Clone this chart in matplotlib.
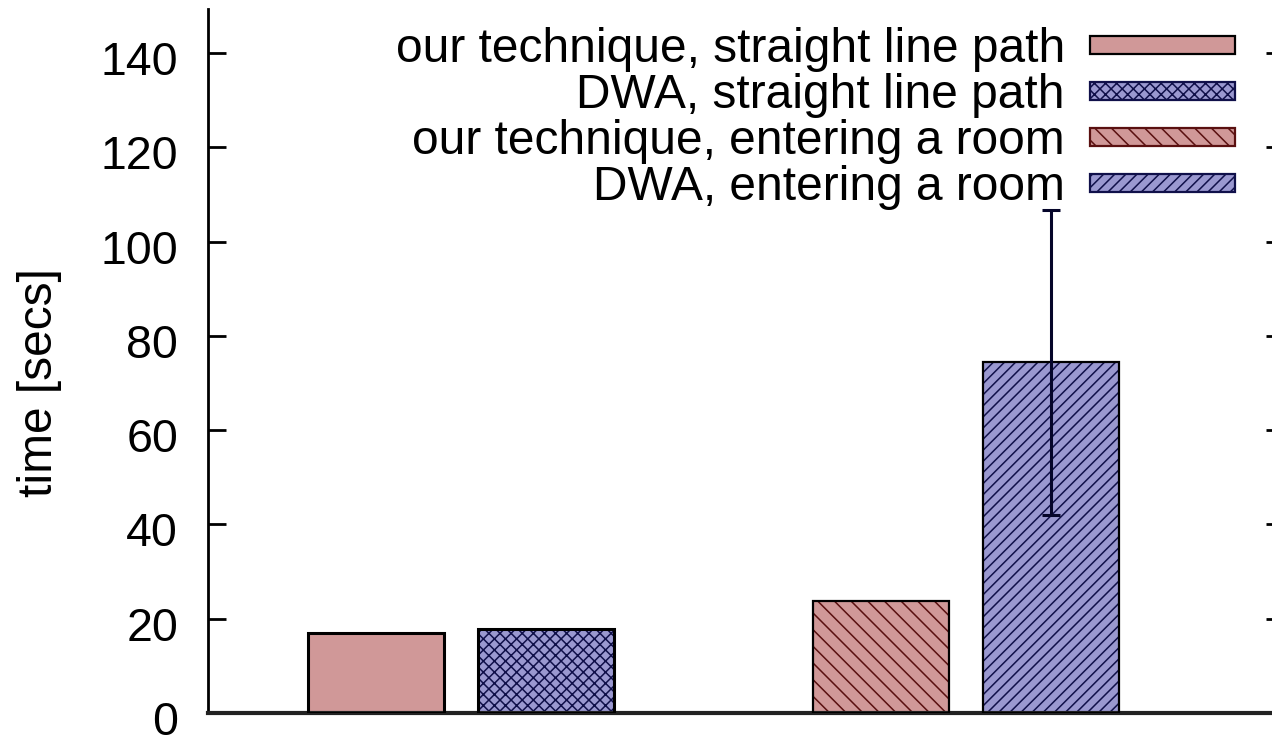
import matplotlib
matplotlib.use("Agg")
import matplotlib.pyplot as plt
from matplotlib.patches import Rectangle
from matplotlib.transforms import ScaledTranslation
import matplotlib as mpl

plt.rcParams['font.family'] = ['Liberation Sans', 'DejaVu Sans']
mpl.rcParams['hatch.linewidth'] = 1.1

# Data
series_labels = [
    "our technique, straight line path",
    "DWA, straight line path",
    "our technique, entering a room",
    "DWA, entering a room",
]
group_index = [0, 0, 1, 1]
times = [16.9, 17.8, 23.8, 74.4]
errors = [None, None, None, 32.4]
yticks = [0, 20, 40, 60, 80, 100, 120, 140]

# Styles
pink = "#d09898"
blue = "#9a98d0"
fills = [pink, blue, pink, blue]
hatches = [None, "xxx", "\\\\", "///"]
hatch_colors = ["black", "#10104a", "#5a1010", "#10104a"]
edge_widths = [2.2, 2.2, 1.6, 1.6]
offset = 0.168
bar_w = 0.27

W, H = 1272, 735
fig = plt.figure(figsize=(W / 100, H / 100), dpi=100)
ax = fig.add_axes([208 / W, 22 / H, 1076 / W, 704 / H])

for i in range(4):
    x = group_index[i] + (-offset if i % 2 == 0 else offset)
    if hatches[i]:
        ax.bar(x, times[i], width=bar_w, color=fills[i], hatch=hatches[i],
               edgecolor=hatch_colors[i], linewidth=0, zorder=2)
    else:
        ax.bar(x, times[i], width=bar_w, color=fills[i], linewidth=0, zorder=2)
    ax.bar(x, times[i], width=bar_w, fill=False, edgecolor="black",
           linewidth=edge_widths[i], zorder=3)
    if errors[i] is not None:
        ax.errorbar(x, times[i], yerr=errors[i], fmt="none", ecolor="#05052a",
                    elinewidth=2.2, capsize=6.5, capthick=2.2, zorder=4)

ax.set_xlim(-0.501, 1.630)
ax.set_ylim(0, 149.35)
ax.set_yticks(yticks)
ax.set_xticks([])
ax.tick_params(axis="y", direction="in", length=13, width=2, labelsize=33.5,
               right=True, pad=21.5)
shift = ScaledTranslation(0, -5 / 100, fig.dpi_scale_trans)
for lbl in ax.get_yticklabels():
    lbl.set_transform(lbl.get_transform() + shift)
ax.spines["top"].set_visible(False)
ax.spines["left"].set_linewidth(2)
ax.spines["bottom"].set_linewidth(3)
ax.spines["bottom"].set_color("#222222")
ax.spines["right"].set_linewidth(2)

fig.text(40 / W, 1 - 383 / H, "time [secs]", rotation=90, fontsize=34.5,
         ha="center", va="center")

# Key: right-aligned labels with a swatch to their right
for i, label in enumerate(series_labels):
    yc = 45 + 46 * i
    fig.text(1065 / W, 1 - (yc + 17) / H, label, fontsize=34.5,
             ha="right", va="baseline")
    sw = Rectangle((1090 / W, 1 - (yc + 9) / H), 145 / W, 18 / H,
                   transform=fig.transFigure, facecolor=fills[i],
                   hatch=hatches[i], edgecolor=hatch_colors[i],
                   linewidth=1.6)
    fig.add_artist(sw)

fig.savefig("out.png", dpi=100)
